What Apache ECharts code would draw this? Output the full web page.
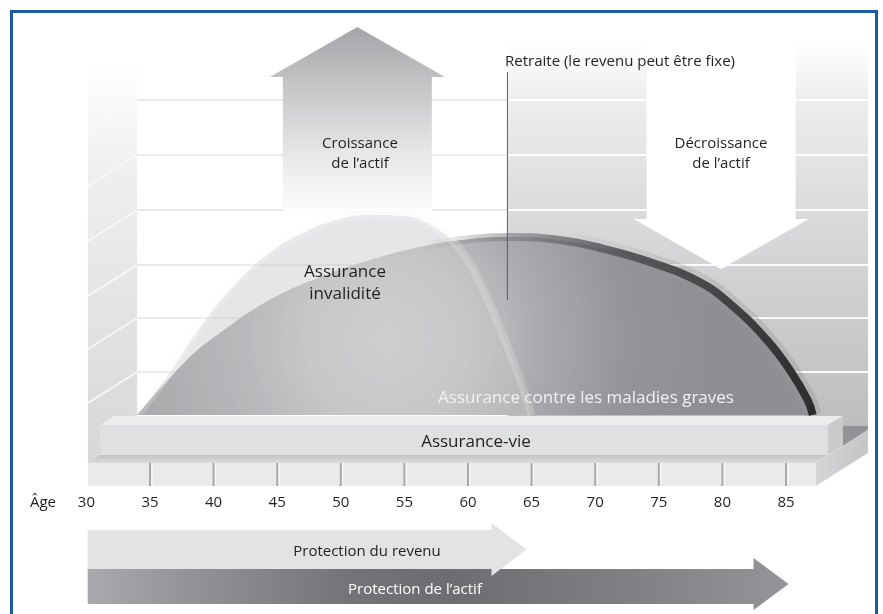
<!DOCTYPE html>
<html>
<head>
<meta charset="utf-8">
<title>Protection selon l'âge</title>
<script src="https://cdn.jsdelivr.net/npm/echarts@6/dist/echarts.min.js"></script>
<style>
  html, body { margin: 0; padding: 0; background: #fff; }
  #chart { width: 883px; height: 614px; }
</style>
</head>
<body>
<div id="chart"></div>
<script>
// ages on the axis
var ageTicks = [30, 35, 40, 45, 50, 55, 60, 65, 70, 75, 80, 85];
var retirementAge = 63.1;
var wallLevels = [21.5, 48.5, 75, 102.5, 130, 157.5];

// Assurance invalidité
var disabilityAges = [34.0, 36.3, 39.2, 41.8, 44.4, 47.0, 49.7, 52.3, 54.9, 57.3, 59.4, 61.2, 62.9, 64.1, 65.0];
var disabilityLevels = [0, 19, 46, 66, 81, 91, 97.5, 100, 99.5, 94, 82.5, 62.5, 37.5, 17.5, 0];

// Assurance contre les maladies graves
var illnessAges = [34.0, 37.9, 40.5, 44.4, 48.4, 52.3, 56.2, 60.2, 63.3, 67.2, 70.4, 74.3, 78.2, 80.8, 83.5, 85.3, 86.7, 87.1];
var illnessLevels = [0, 27.5, 41, 57.5, 69, 77.5, 84, 88, 89, 87.5, 83.5, 76.5, 66.5, 54.5, 37.5, 22.5, 7.5, 0];

// coverage spans [from age, to age]
var lifeCover = [31.1, 88.3];
var incomeCover = [30.1, 64.6];
var assetCover = [30.1, 85.2];

// big arrows [age, from level, to level]
var growthArrow = [51.3, 98.5, 194];
var declineArrow = [79.9, 185, 73];

var SCENE_LEFT = 30.12;
var WALL_RIGHT = 33.98;
var SCENE_RIGHT = 91.45;
var FLOOR_RIGHT = 87.35;
var FONT = '"Open Sans", "Noto Sans", sans-serif';

var myChart = echarts.init(document.getElementById('chart'));
var G = echarts.graphic;

function pairs(xs, ys) {
  return xs.map(function (x, i) { return [x, ys[i]]; });
}

function renderBack(params, api) {
  var r = api.coord([retirementAge, 186]);
  var rb = api.coord([SCENE_RIGHT, -7.5]);
  var wt = api.coord([SCENE_LEFT, 177.5]);
  var wb = api.coord([WALL_RIGHT, -24]);
  return {
    type: 'group',
    children: [
      {
        type: 'rect',
        shape: {x: r[0], y: r[1], width: rb[0] - r[0], height: rb[1] - r[1]},
        style: {fill: new G.LinearGradient(0, 0, 0, 1, [
          {offset: 0, color: '#ffffff'},
          {offset: 0.15, color: '#ededee'},
          {offset: 0.45, color: '#d9dadc'},
          {offset: 0.75, color: '#c9cacc'},
          {offset: 1, color: '#bcbdbf'}
        ])}
      },
      {
        type: 'rect',
        shape: {x: wt[0], y: wt[1], width: wb[0] - wt[0], height: wb[1] - wt[1]},
        style: {fill: new G.LinearGradient(0, 0, 0, 1, [
          {offset: 0, color: '#ffffff'},
          {offset: 0.3, color: '#eeeeef'},
          {offset: 1, color: '#d6d7d9'}
        ])}
      }
    ]
  };
}

function renderGrid(params, api) {
  var lvl = api.value(0);
  var w = api.coord([SCENE_LEFT, lvl]);
  var a = api.coord([WALL_RIGHT, lvl]);
  var b = api.coord([retirementAge, lvl]);
  var c = api.coord([SCENE_RIGHT, lvl]);
  return {
    type: 'group',
    children: [
      {type: 'line', shape: {x1: w[0], y1: a[1] + 31, x2: a[0], y2: a[1]}, style: {stroke: '#f8f8f8', lineWidth: 1.5}},
      {type: 'line', shape: {x1: a[0], y1: a[1], x2: b[0], y2: b[1]}, style: {stroke: '#ebebec', lineWidth: 2}},
      {type: 'line', shape: {x1: b[0], y1: b[1], x2: c[0], y2: c[1]}, style: {stroke: 'rgba(255,255,255,0.9)', lineWidth: 2}}
    ]
  };
}

function renderBigArrow(params, api) {
  var p0 = api.coord([api.value(0), api.value(1)]);
  var p1 = api.coord([api.value(0), api.value(2)]);
  var cx = p0[0];
  var up = p1[1] < p0[1];
  var hb = p1[1] + (up ? 50 : -50);
  var pts = [[cx, p1[1]], [cx + 87.5, hb], [cx + 74.5, hb], [cx + 74.5, p0[1]],
             [cx - 74.5, p0[1]], [cx - 74.5, hb], [cx - 87.5, hb]];
  var fill = up ? new G.LinearGradient(0, 0, 0, 1, [
    {offset: 0, color: '#a4a5a8'},
    {offset: 0.3, color: '#c3c4c6'},
    {offset: 0.65, color: '#e6e6e7'},
    {offset: 1, color: '#ffffff'}
  ]) : '#ffffff';
  return {type: 'polygon', shape: {points: pts}, style: {fill: fill}};
}

function renderRetirement(params, api) {
  var t = api.coord([api.value(0), 171.5]);
  var b = api.coord([api.value(0), 57.5]);
  return {type: 'line', shape: {x1: t[0], y1: t[1], x2: b[0], y2: b[1]}, style: {stroke: '#5d5e60', lineWidth: 1}};
}

function renderFloor(params, api) {
  var l = api.coord([SCENE_LEFT, -24]);
  var r = api.coord([FLOOR_RIGHT, -35.5]);
  return {
    type: 'group',
    children: [
      {type: 'polygon', shape: {points: [[r[0] + 27, l[1] - 37], [r[0] + 52, l[1] - 37], [r[0] + 52, l[1] - 33], [r[0] + 27, l[1] - 17]]},
        style: {fill: '#929396'}},
      {type: 'rect', shape: {x: l[0], y: l[1], width: r[0] - l[0], height: r[1] - l[1]}, style: {fill: '#e9eaeb'}},
      {type: 'polygon', shape: {points: [[r[0], l[1]], [r[0] + 52, l[1] - 33], [r[0] + 52, r[1] - 33], [r[0], r[1]]]},
        style: {fill: new G.LinearGradient(0, 0, 1, 0, [
          {offset: 0, color: '#d4d5d7'}, {offset: 1, color: '#c4c5c7'}
        ])}}
    ]
  };
}

// graduation on the floor + age label under it
function renderTick(params, api) {
  var age = api.value(0);
  var t = api.coord([age, -24]);
  var b = api.coord([age, -35.5]);
  var lab = api.coord([age, -44]);
  var children = [{
    type: 'text', x: lab[0], y: lab[1],
    style: {text: String(age), fill: '#231f20', fontSize: 15, fontFamily: FONT, align: 'center', verticalAlign: 'middle'}
  }];
  if (age > ageTicks[0]) {
    children.push({type: 'line', shape: {x1: t[0], y1: t[1], x2: b[0], y2: b[1]}, style: {stroke: '#a9aaad', lineWidth: 2}});
    children.push({type: 'line', shape: {x1: t[0] + 2, y1: t[1], x2: b[0] + 2, y2: b[1]}, style: {stroke: '#fbfbfb', lineWidth: 1}});
  }
  return {type: 'group', children: children};
}

function renderLifeBar(params, api) {
  var f0 = api.coord([api.value(0), -5]);
  var f1 = api.coord([api.value(1), -20]);
  var x0 = f0[0], y0 = f0[1], x1 = f1[0], y1 = f1[1];
  return {
    type: 'group',
    children: [
      {type: 'polygon', shape: {points: [[x0 - 12, y1 + 8], [x0, y1], [x1, y1], [x1 - 12, y1 + 8]]},
        style: {fill: new G.LinearGradient(0, 0, 0, 1, [
          {offset: 0, color: '#c3c4c6'}, {offset: 1, color: '#d9dadc'}
        ])}},
      {type: 'polygon', shape: {points: [[x0, y0], [x0 + 13, y0 - 9], [x1 + 15, y0 - 9], [x1, y0]]}, style: {fill: '#ececed'}},
      {type: 'polygon', shape: {points: [[x1, y0], [x1 + 15, y0 - 9], [x1 + 15, y1 - 9], [x1, y1]]}, style: {fill: '#c9cacc'}},
      {type: 'rect', shape: {x: x0, y: y0, width: x1 - x0, height: y1 - y0}, style: {fill: '#dfe0e2'}}
    ]
  };
}

var protectionRows = [
  {top: -57.5, bottom: -77, headTop: -54, headBottom: -80.5},
  {top: -77, bottom: -94.5, headTop: -71.5, headBottom: -97.5}
];

function renderProtection(params, api) {
  var row = protectionRows[api.value(2)];
  var s = api.coord([api.value(0), row.top]);
  var e = api.coord([api.value(1), row.bottom]);
  var ht = api.coord([api.value(1), row.headTop])[1];
  var hbt = api.coord([api.value(1), row.headBottom])[1];
  var hx = e[0] - 35;
  var pts = [[s[0], s[1]], [hx, s[1]], [hx, ht], [e[0], (ht + hbt) / 2], [hx, hbt], [hx, e[1]], [s[0], e[1]]];
  var fill = api.value(2) === 0 ? '#e2e3e5' : new G.LinearGradient(0, 0, 1, 0, [
    {offset: 0, color: '#a9aaad'},
    {offset: 0.12, color: '#96979a'},
    {offset: 0.38, color: '#727376'},
    {offset: 0.52, color: '#6c6d70'},
    {offset: 0.78, color: '#808184'},
    {offset: 1, color: '#949599'}
  ]);
  return {type: 'polygon', shape: {points: pts}, style: {fill: fill}};
}

function label(text, x, y, size, color, align) {
  return {
    type: 'text', x: x, y: y, z: 100,
    style: {
      text: text, fill: color || '#231f20', fontSize: size, fontFamily: FONT,
      align: align || 'center', verticalAlign: 'middle', lineHeight: Math.round(size * 1.3)
    }
  };
}

var rimGradient = new G.LinearGradient(0, 0, 1, 0, [
  {offset: 0, color: 'rgba(120,121,124,0)'},
  {offset: 0.42, color: 'rgba(120,121,124,0)'},
  {offset: 0.56, color: 'rgba(110,111,114,0.55)'},
  {offset: 0.72, color: '#58595c'},
  {offset: 0.88, color: '#404143'},
  {offset: 1, color: '#2c2c2e'}
]);

var haloGradient = new G.LinearGradient(0, 0, 1, 0, [
  {offset: 0, color: 'rgba(150,151,154,0)'},
  {offset: 0.6, color: 'rgba(150,151,154,0)'},
  {offset: 0.8, color: 'rgba(150,151,154,0.3)'},
  {offset: 1, color: 'rgba(150,151,154,0.4)'}
]);

var option = {
  animation: false,
  grid: {left: 86.4, right: 7.96, top: 15, bottom: 0, containLabel: false, outerBoundsMode: 'none'},
  xAxis: {
    type: 'value', min: 30, max: 92, interval: 5,
    axisLine: {show: false}, axisTick: {show: false}, splitLine: {show: false}, axisLabel: {show: false}
  },
  yAxis: {type: 'value', min: -99.5, max: 200, show: false},
  series: [
    {type: 'custom', name: 'fond', z: 1, silent: true, data: [[retirementAge]], renderItem: renderBack},
    {type: 'custom', name: 'grille', z: 1, silent: true, data: wallLevels.map(function (v) { return [v]; }), renderItem: renderGrid},
    {type: 'custom', name: 'actif', z: 2, silent: true, data: [growthArrow, declineArrow], renderItem: renderBigArrow},
    {
      type: 'line', name: 'Assurance contre les maladies graves', z: 3, silent: true,
      data: pairs(illnessAges, illnessLevels), smooth: 0.45, showSymbol: false,
      lineStyle: {width: 0},
      areaStyle: {opacity: 1, color: new G.RadialGradient(0.37, 0.58, 1.8, [
        {offset: 0, color: '#d4d5d7'},
        {offset: 0.25, color: '#c6c7c9'},
        {offset: 0.45, color: '#acadb0'},
        {offset: 0.75, color: '#949598'},
        {offset: 1, color: '#8e8f92'}
      ])}
    },
    {
      type: 'line', name: 'halo', z: 3, silent: true,
      data: pairs(illnessAges, illnessLevels), smooth: 0.45, showSymbol: false,
      lineStyle: {width: 18, color: haloGradient}
    },
    {
      type: 'line', name: 'bord', z: 4, silent: true,
      data: pairs(illnessAges, illnessLevels), smooth: 0.45, showSymbol: false,
      lineStyle: {width: 8, color: rimGradient}
    },
    {
      type: 'line', name: 'Assurance invalidité', z: 5, silent: true,
      data: pairs(disabilityAges, disabilityLevels), smooth: 0.45, showSymbol: false,
      lineStyle: {width: 8, color: 'rgba(245,245,246,0.22)'},
      areaStyle: {opacity: 1, color: 'rgba(198,199,202,0.45)'}
    },
    {type: 'custom', name: 'retraite', z: 6, silent: true, data: [[retirementAge]], renderItem: renderRetirement},
    {type: 'custom', name: 'plancher', z: 7, silent: true, data: [[0]], renderItem: renderFloor},
    {type: 'custom', name: 'graduations', z: 7, silent: true, data: ageTicks.map(function (a) { return [a]; }), renderItem: renderTick},
    {type: 'custom', name: 'Assurance-vie', z: 8, silent: true, data: [lifeCover], renderItem: renderLifeBar},
    {type: 'custom', name: 'protection', z: 9, silent: true,
      data: [[assetCover[0], assetCover[1], 1], [incomeCover[0], incomeCover[1], 0]], renderItem: renderProtection}
  ],
  graphic: [
    label('Croissance\nde l\u2019actif', 360, 153.5, 15),
    label('D\u00e9croissance\nde l\u2019actif', 721, 153.5, 15),
    label('Retraite (le revenu peut \u00eatre fixe)', 505, 62, 15, '#231f20', 'left'),
    label('Assurance\ninvalidit\u00e9', 345, 283.5, 17),
    label('Assurance contre les maladies graves', 586, 398, 17, '#f1f1f2'),
    label('Assurance-vie', 476, 442, 17),
    label('\u00c2ge', 43, 503, 15),
    label('Protection du revenu', 367, 552, 15),
    label('Protection de l\u2019actif', 415, 590, 15, '#ffffff'),
    {
      type: 'rect', z: 100, silent: true,
      shape: {x: 11.5, y: 11.5, width: 865, height: 640},
      style: {fill: 'none', stroke: '#1c5aa6', lineWidth: 3}
    }
  ]
};

myChart.setOption(option);
</script>
</body>
</html>
